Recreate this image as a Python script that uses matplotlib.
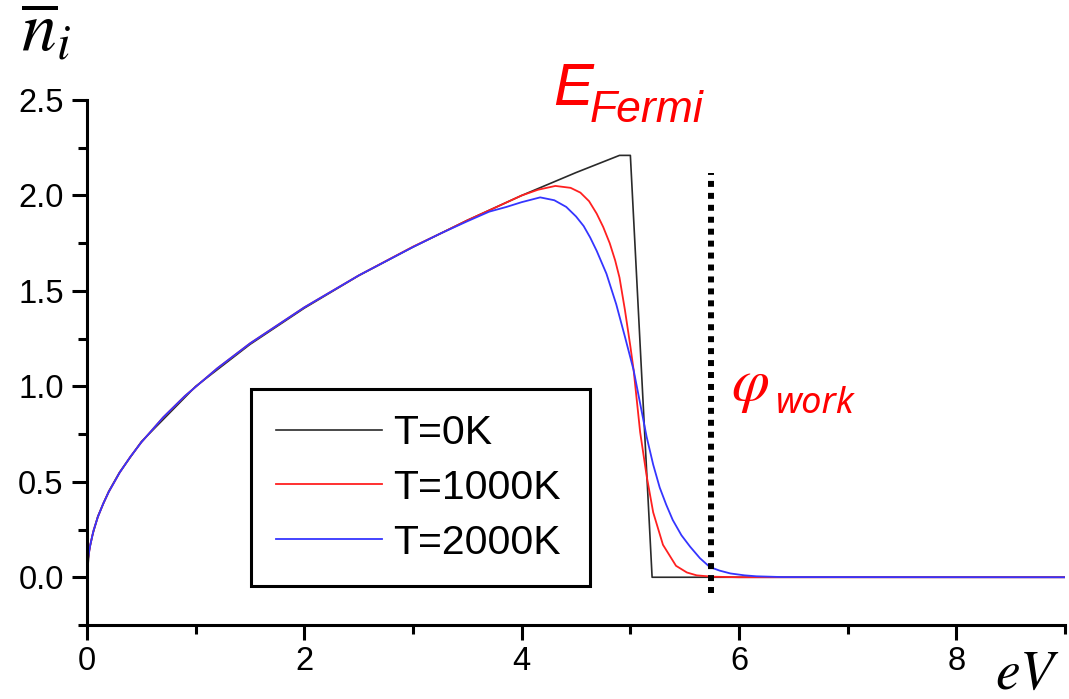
import numpy as np
import matplotlib
matplotlib.use("Agg")
import matplotlib.pyplot as plt
from matplotlib.ticker import MultipleLocator, FormatStrFormatter

# mean occupation vs energy (eV)
e_t0 = [0, 0.02, 0.05, 0.1, 0.2, 0.3, 0.5, 1.0, 1.5, 2.0, 2.5, 3.0, 3.5, 4.0, 4.5,
        4.9, 5.0, 5.2, 9.0]
n_t0 = [0, 0.14, 0.22, 0.32, 0.45, 0.55, 0.71, 1.0, 1.22, 1.41, 1.58, 1.73, 1.87, 2.0, 2.12,
        2.21, 2.21, 0.0, 0.0]

e_t1000 = [0, 0.01, 0.03, 0.06, 0.1, 0.15, 0.2, 0.3, 0.4, 0.5, 0.7, 0.9, 1.2, 1.5, 2.0,
           2.5, 3.0, 3.25, 3.5, 3.75, 4.0, 4.15, 4.31, 4.45, 4.54, 4.62, 4.69, 4.75, 4.81,
           4.86, 4.90, 4.95, 5.00, 5.03, 5.09, 5.15, 5.21, 5.30, 5.42, 5.52, 5.61, 5.75,
           6.0, 9.0]
n_t1000 = [0, 0.10, 0.17, 0.245, 0.316, 0.387, 0.447, 0.548, 0.632, 0.707, 0.837, 0.949,
           1.095, 1.225, 1.414, 1.581, 1.732, 1.80, 1.87, 1.935, 2.00, 2.03, 2.05, 2.04,
           2.015, 1.97, 1.905, 1.835, 1.75, 1.66, 1.57, 1.40, 1.21, 1.085, 0.76, 0.53, 0.34,
           0.17, 0.06, 0.025, 0.01, 0.003, 0.0, 0.0]

e_t2000 = [0, 0.01, 0.03, 0.06, 0.1, 0.15, 0.2, 0.3, 0.4, 0.5, 0.7, 0.9, 1.2, 1.5, 2.0,
           2.5, 3.0, 3.25, 3.5, 3.7, 3.86, 4.0, 4.17, 4.3, 4.41, 4.5, 4.57, 4.63, 4.69,
           4.78, 4.87, 4.95, 5.03, 5.09, 5.15, 5.21, 5.27, 5.33, 5.39, 5.47, 5.55, 5.64,
           5.73, 5.82, 5.92, 6.05, 6.16, 6.4, 9.0]
n_t2000 = [0, 0.10, 0.17, 0.245, 0.316, 0.387, 0.447, 0.548, 0.632, 0.707, 0.837, 0.949,
           1.095, 1.225, 1.414, 1.581, 1.73, 1.80, 1.865, 1.915, 1.94, 1.965, 1.99, 1.975,
           1.94, 1.89, 1.84, 1.78, 1.71, 1.59, 1.43, 1.26, 1.085, 0.91, 0.735, 0.59, 0.47,
           0.38, 0.30, 0.22, 0.16, 0.10, 0.054, 0.035, 0.02, 0.01, 0.005, 0.001, 0.0]

labels = ["T=0K", "T=1000K", "T=2000K"]
colors = ["#2a2a2a", "#ff2020", "#3535ff"]

phi_work = 5.74          # position of the dotted line
phi_span = [-0.08, 2.12]

plt.rcParams["font.family"] = ["Liberation Sans", "DejaVu Sans"]
plt.rcParams["mathtext.fontset"] = "stix"

fig = plt.figure(figsize=(10.69, 6.99), dpi=100)
ax = fig.add_axes([0.0814, 0.1059, 0.9149, 0.751])

ax.plot(e_t0, n_t0, color=colors[0], lw=1.2, label=labels[0])
ax.plot(e_t1000, n_t1000, color=colors[1], lw=1.3, label=labels[1])
ax.plot(e_t2000, n_t2000, color=colors[2], lw=1.3, label=labels[2])

ax.plot([phi_work, phi_work], phi_span, color="black", lw=4.3,
        linestyle=(0, (1, 1)), dash_capstyle="butt", clip_on=False)

ax.set_xlim(0, 9)
ax.set_ylim(-0.25, 2.5)
ax.spines["top"].set_visible(False)
ax.spines["right"].set_visible(False)
for s in ["left", "bottom"]:
    ax.spines[s].set_linewidth(2.2)

ax.xaxis.set_major_locator(MultipleLocator(2))
ax.xaxis.set_minor_locator(MultipleLocator(1))
ax.yaxis.set_major_locator(MultipleLocator(0.5))
ax.yaxis.set_minor_locator(MultipleLocator(0.25))
ax.yaxis.set_major_formatter(FormatStrFormatter("%.1f"))
ax.tick_params(which="major", length=10.8, width=2.2, labelsize=23.5, direction="out")
ax.tick_params(which="minor", length=6.5, width=2.2, direction="out")
ax.tick_params(axis="y", which="major", pad=6)
ax.tick_params(axis="x", which="major", pad=4)

leg = ax.legend(loc="lower left", bbox_to_anchor=(0.168, 0.074, 0.346, 0.37),
                mode="expand", fontsize=29.5, handlelength=2.6, handletextpad=0.27,
                borderpad=0.6, labelspacing=0.41, borderaxespad=0, fancybox=False,
                frameon=True, framealpha=1)
leg.get_frame().set_edgecolor("black")
leg.get_frame().set_linewidth(2.2)

W, H = 1069, 699
fig.text(21 / W, 1 - 50 / H, r"$\overline{n}_i$", fontsize=50, va="baseline")
fig.text(995 / W, 1 - 689 / H, r"$eV$", fontsize=40, va="baseline")

fig.text(553 / W, 1 - 105 / H, "E", color="red", fontsize=43, style="italic", va="baseline")
fig.text(590 / W, 1 - 122 / H, "Fermi", color="red", fontsize=32, style="italic", va="baseline")
fig.text(731 / W, 1 - 400 / H, r"$\varphi$", color="red", fontsize=44, va="baseline")
fig.text(776 / W, 1 - 413 / H, "work", color="red", fontsize=26, style="italic",
         family="Noto Sans", va="baseline")

fig.savefig("out.png", dpi=100)
